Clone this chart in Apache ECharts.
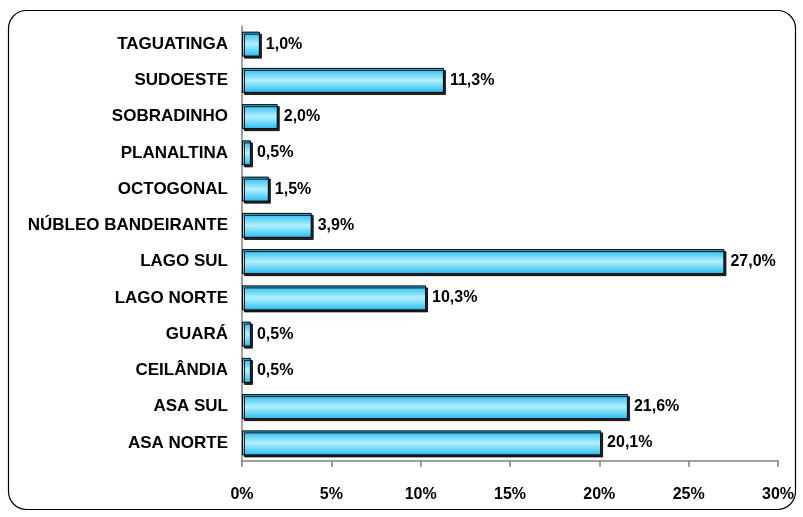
<!DOCTYPE html>
<html>
<head>
<meta charset="utf-8">
<script src="https://cdn.jsdelivr.net/npm/echarts@6/dist/echarts.min.js"></script>
<style>
    html, body { margin: 0; padding: 0; background: #fff; }
    #chart { width: 803px; height: 517px; }
</style>
</head>
<body>
<div id="chart"></div>
<script>
// dados (de baixo para cima)
var categories = ['ASA NORTE', 'ASA SUL', 'CEILÂNDIA', 'GUARÁ', 'LAGO NORTE', 'LAGO SUL',
    'NÚBLEO BANDEIRANTE', 'OCTOGONAL', 'PLANALTINA', 'SOBRADINHO', 'SUDOESTE', 'TAGUATINGA'];
var values = [20.1, 21.6, 0.5, 0.5, 10.3, 27.0, 3.9, 1.5, 0.5, 2.0, 11.3, 1.0];
var xTicks = [0, 5, 10, 15, 20, 25, 30];

var font = 'Liberation Sans, Arial, sans-serif';
var chart = echarts.init(document.getElementById('chart'));

var option = {
    animation: false,
    backgroundColor: '#fff',
    grid: { left: 242, right: 25, top: 26, bottom: 56 },
    graphic: [{
        type: 'rect',
        shape: { x: 8.5, y: 10.5, width: 787, height: 499, r: 18 },
        style: { fill: 'none', stroke: '#000', lineWidth: 1.2 },
        z: -1
    }],
    xAxis: {
        type: 'value',
        min: xTicks[0],
        max: xTicks[xTicks.length - 1],
        interval: 5,
        splitLine: { show: false },
        axisLine: { show: true, lineStyle: { color: '#808080', width: 1.5 } },
        axisTick: { show: true, length: 6, lineStyle: { color: '#808080', width: 1.5 } },
        axisLabel: {
            margin: 26,
            color: '#000', fontWeight: 'bold', fontSize: 16, fontFamily: font,
            formatter: function (v) { return v + '%'; }
        }
    },
    yAxis: {
        type: 'category',
        data: categories,
        axisLine: { show: true, lineStyle: { color: '#808080', width: 1.5 } },
        axisTick: { show: false },
        axisLabel: {
            margin: 14,
            color: '#000', fontWeight: 'bold', fontSize: 17, fontFamily: font
        }
    },
    series: [{
        type: 'bar',
        data: values,
        barWidth: 25,
        itemStyle: {
            color: new echarts.graphic.LinearGradient(0, 0, 0, 1, [
                { offset: 0, color: '#0f9ed4' },
                { offset: 0.15, color: '#4cc8f4' },
                { offset: 0.5, color: '#b2f0ff' },
                { offset: 0.85, color: '#50ccf6' },
                { offset: 1, color: '#20b4e8' }
            ]),
            borderColor: '#000',
            borderWidth: 1,
            shadowColor: 'rgba(0,0,0,0.85)',
            shadowOffsetX: 2,
            shadowOffsetY: 2,
            shadowBlur: 0
        },
        label: {
            show: true,
            position: 'right',
            distance: 6,
            color: '#000', fontWeight: 'bold', fontSize: 16, fontFamily: font,
            formatter: function (p) { return p.value.toFixed(1).replace('.', ',') + '%'; }
        }
    }]
};
chart.setOption(option);
</script>
</body>
</html>
